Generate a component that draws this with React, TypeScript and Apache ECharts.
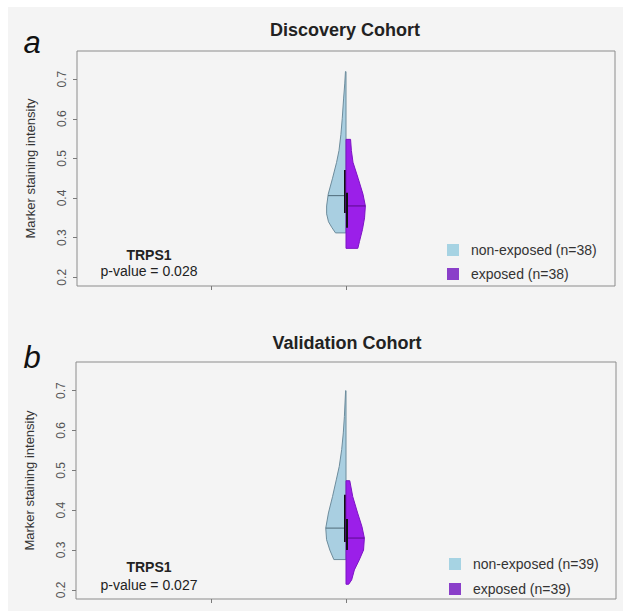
import React, { useEffect, useRef } from "react";
import * as echarts from "echarts";

// ---- tick values ----
const yTicks = [0.2, 0.3, 0.4, 0.5, 0.6, 0.7];
const xTicks = [0.5, 1];
const CENTER = 1;

// ---- Discovery cohort (n=38) ----
// violin outline: marker values and half-widths (x-axis units)
const discNonExpY = [0.312, 0.325, 0.34, 0.36, 0.38, 0.41, 0.45, 0.49, 0.52, 0.56, 0.6, 0.65, 0.69, 0.719];
const discNonExpW = [0.039, 0.052, 0.065, 0.072, 0.072, 0.066, 0.05, 0.035, 0.026, 0.019, 0.014, 0.009, 0.0045, 0.002];
const discExpY = [0.273, 0.29, 0.32, 0.35, 0.38, 0.41, 0.45, 0.49, 0.52, 0.548];
const discExpW = [0.044, 0.05, 0.061, 0.069, 0.072, 0.063, 0.045, 0.026, 0.02, 0.017];
const discMedians = [0.406, 0.38];
const discIQR = [[0.362, 0.471], [0.325, 0.413]];

// ---- Validation cohort (n=39) ----
const valNonExpY = [0.276, 0.3, 0.326, 0.355, 0.393, 0.434, 0.476, 0.51, 0.552, 0.594, 0.635, 0.7];
const valNonExpW = [0.045, 0.06, 0.072, 0.075, 0.065, 0.05, 0.036, 0.025, 0.016, 0.01, 0.006, 0.0015];
const valExpY = [0.214, 0.225, 0.25, 0.275, 0.3, 0.33, 0.359, 0.393, 0.434, 0.474];
const valExpW = [0.01, 0.021, 0.031, 0.049, 0.065, 0.068, 0.059, 0.043, 0.025, 0.014];
const valMedians = [0.355, 0.33];
const valIQR = [[0.32, 0.439], [0.3, 0.378]];

const legendTop = ["non-exposed (n=38)", "exposed (n=38)"];
const legendBottom = ["non-exposed (n=39)", "exposed (n=39)"];

const FONT = "'Liberation Sans', Arial, Helvetica, sans-serif";
const BLUE = "#a9cfe1";
const BLUE_STROKE = "#6d8c9c";
const PURPLE = "#9b1fe9";
const PURPLE_STROKE = "#7d14c4";
const LEG_BLUE = "#a6d3e3";
const LEG_PURPLE = "#8a3fc9";

function interpWidth(ys: number[], ws: number[], v: number) {
  for (let i = 0; i < ys.length - 1; i++) {
    if (v >= ys[i] && v <= ys[i + 1]) {
      const t = (v - ys[i]) / (ys[i + 1] - ys[i]);
      return ws[i] + t * (ws[i + 1] - ws[i]);
    }
  }
  return 0;
}

function violin(
  name: string,
  idx: number,
  ys: number[],
  ws: number[],
  side: number,
  median: number,
  iqr: number[],
  fill: string,
  stroke: string,
  medColor: string
) {
  return {
    type: "custom",
    name,
    xAxisIndex: idx,
    yAxisIndex: idx,
    coordinateSystem: "cartesian2d",
    itemStyle: { color: fill },
    clip: false,
    data: ys.map((y, i) => [CENTER + side * ws[i], y]),
    renderItem: (params: any, api: any) => {
      if (params.dataIndex !== 0) return null;
      const pts: number[][] = [];
      pts.push(api.coord([CENTER, ys[0]]));
      ys.forEach((y, i) => pts.push(api.coord([CENTER + side * ws[i], y])));
      pts.push(api.coord([CENTER, ys[ys.length - 1]]));
      const mw = interpWidth(ys, ws, median);
      const m0 = api.coord([CENTER, median]);
      const m1 = api.coord([CENTER + side * mw, median]);
      const b0 = api.coord([CENTER, iqr[0]]);
      const b1 = api.coord([CENTER, iqr[1]]);
      const bw = 2;
      return {
        type: "group",
        children: [
          {
            type: "polygon",
            shape: { points: pts },
            style: { fill, stroke, lineWidth: 1 },
          },
          {
            type: "line",
            shape: { x1: m0[0], y1: m0[1], x2: m1[0], y2: m1[1] },
            style: { stroke: medColor, lineWidth: 1 },
          },
          {
            type: "rect",
            shape: {
              x: side < 0 ? b0[0] - bw : b0[0],
              y: b1[1],
              width: bw,
              height: b0[1] - b1[1],
            },
            style: { fill: "#111" },
          },
        ],
      };
    },
  };
}

function yAxis(idx: number, min: number, max: number) {
  return {
    type: "value",
    gridIndex: idx,
    min,
    max,
    axisLine: { show: false },
    splitLine: { show: false },
    axisTick: { show: true, length: 4, lineStyle: { color: "#7a7a7a" }, customValues: yTicks },
    axisLabel: {
      rotate: 90,
      margin: 9,
      fontSize: 12,
      color: "#555",
      fontFamily: FONT,
      customValues: yTicks,
      formatter: (v: number) => v.toFixed(1),
    },
    name: "Marker staining intensity",
    nameLocation: "middle",
    nameRotate: 90,
    nameGap: 40,
    nameTextStyle: { fontSize: 13, color: "#333", fontFamily: FONT },
  };
}

function xAxis(idx: number) {
  return {
    type: "value",
    gridIndex: idx,
    min: 0,
    max: 2,
    axisLine: { show: false },
    splitLine: { show: false },
    axisTick: { show: true, length: 4, lineStyle: { color: "#7a7a7a" }, customValues: xTicks },
    axisLabel: { show: false },
  };
}

function legend(names: string[], left: number, top: number, gap: number) {
  return {
    orient: "vertical",
    left,
    top,
    padding: 0,
    itemWidth: 12,
    itemHeight: 12,
    itemGap: gap,
    icon: "rect",
    selectedMode: false,
    textStyle: { fontSize: 14, color: "#333", fontFamily: FONT, padding: [0, 0, 0, 7] },
    data: [
      { name: names[0], itemStyle: { color: LEG_BLUE, borderWidth: 0 } },
      { name: names[1], itemStyle: { color: LEG_PURPLE, borderWidth: 0 } },
    ],
  };
}

function txt(text: string, x: number, y: number, size: number, weight = "normal", style = "normal", color = "#222") {
  return {
    type: "text",
    x,
    y,
    style: {
      text,
      fill: color,
      font: `${style} ${weight} ${size}px ${FONT}`,
      textAlign: "center",
      textVerticalAlign: "middle",
    },
  };
}

export default function App() {
  const ref = useRef<HTMLDivElement>(null);
  useEffect(() => {
    if (!ref.current) return;
    const chart = echarts.init(ref.current, null, { renderer: "svg" });
    chart.setOption({
      animation: false,
      backgroundColor: "#ffffff",
      textStyle: { fontFamily: FONT },
      grid: [
        { left: 77, top: 51, width: 538, height: 235, show: true, borderColor: "#8c8c8c", borderWidth: 1, backgroundColor: "transparent" },
        { left: 76, top: 362, width: 540, height: 237, show: true, borderColor: "#8c8c8c", borderWidth: 1, backgroundColor: "transparent" },
      ],
      xAxis: [xAxis(0), xAxis(1)],
      yAxis: [yAxis(0, 0.178, 0.771), yAxis(1, 0.177, 0.772)],
      legend: [legend(legendTop, 447, 243, 10), legend(legendBottom, 449, 557, 11)],
      graphic: [
        { type: "rect", z: -10, silent: true, shape: { x: 8, y: 7, width: 615, height: 604 }, style: { fill: "#f4f4f4" } },
        txt("Discovery Cohort", 345, 30, 18, "bold"),
        txt("Validation Cohort", 347, 343, 18, "bold"),
        txt("a", 32, 42, 31, "normal", "italic", "#111"),
        txt("b", 32, 357, 31, "normal", "italic", "#111"),
        txt("TRPS1", 149, 255, 14, "bold"),
        txt("p-value = 0.028", 149, 271, 14),
        txt("TRPS1", 149, 567, 14, "bold"),
        txt("p-value = 0.027", 149, 585, 14),
      ],
      series: [
        violin(legendTop[0], 0, discNonExpY, discNonExpW, -1, discMedians[0], discIQR[0], BLUE, BLUE_STROKE, "#4f6b78"),
        violin(legendTop[1], 0, discExpY, discExpW, 1, discMedians[1], discIQR[1], PURPLE, PURPLE_STROKE, "#5a0a8c"),
        violin(legendBottom[0], 1, valNonExpY, valNonExpW, -1, valMedians[0], valIQR[0], BLUE, BLUE_STROKE, "#4f6b78"),
        violin(legendBottom[1], 1, valExpY, valExpW, 1, valMedians[1], valIQR[1], PURPLE, PURPLE_STROKE, "#5a0a8c"),
      ],
    });
    return () => chart.dispose();
  }, []);
  return (
    <div
      ref={ref}
      style={{ position: "fixed", left: 0, top: 0, width: 623, height: 611 }}
    />
  );
}
